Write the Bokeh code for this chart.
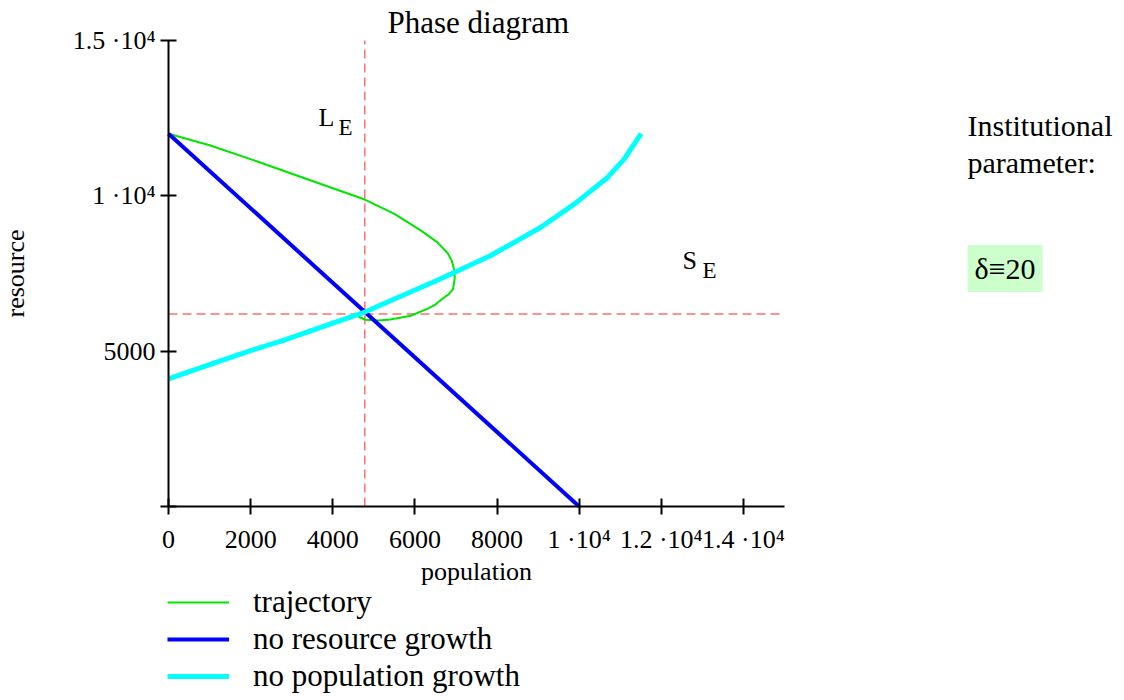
from bokeh.plotting import figure
from bokeh.models import Range1d, FixedTicker, Label, Legend, LegendItem
from bokeh.embed import file_html
from bokeh.resources import INLINE

# ---- data ----
traj_population = [0, 1000, 2200, 3450, 4780, 5500, 6150, 6550, 6800, 6900, 6960, 6970,
                   6930, 6820, 6700, 6500, 6300, 5900, 5400, 5100, 4800, 4640, 4600]
traj_resource = [12000, 11630, 11090, 10500, 9880, 9420, 8880, 8500, 8150, 7900, 7600, 7350,
                 7000, 6830, 6720, 6500, 6360, 6140, 6020, 5990, 6010, 6100, 6190]

no_resource_growth_population = [0, 10000]
no_resource_growth_resource = [12000, 0]

no_population_growth_population = [0, 1000, 2000, 2800, 3950, 4780, 6630, 7850, 9070,
                                   9890, 10700, 11100, 11510]
no_population_growth_resource = [4110, 4570, 5020, 5350, 5880, 6260, 7330, 8080, 8990,
                                 9740, 10600, 11190, 12000]

L_E = 4780      # equilibrium population
S_E = 6200      # equilibrium resource
delta = 20      # institutional parameter

X_MAX = 15000
Y_MAX = 15000
x_ticks = [0, 2000, 4000, 6000, 8000, 10000, 12000, 14000]
x_tick_labels = ["0", "2000", "4000", "6000", "8000", "1 ·10⁴", "1.2 ·10⁴", "1.4 ·10⁴"]
y_ticks = [0, 5000, 10000, 15000]
y_tick_labels = ["", "5000", "1 ·10⁴", "1.5 ·10⁴"]

FONT = "Liberation Serif"

# ---- layout (pixels of the canvas) ----
W, H = 1124, 700
AX_LEFT, AX_RIGHT = 168, 784     # pixel of x = 0 and x = X_MAX
AX_BOTTOM, AX_TOP = 506, 40      # pixel of y = 0 and y = Y_MAX
sx = (AX_RIGHT - AX_LEFT) / X_MAX
sy = (AX_BOTTOM - AX_TOP) / Y_MAX

def px2x(px):
    return (px - AX_LEFT) / sx

def py2y(py):
    return (AX_BOTTOM - py) / sy

p = figure(width=W, height=H, output_backend="svg", toolbar_location=None,
           x_range=Range1d(px2x(0), px2x(W)), y_range=Range1d(py2y(H), py2y(0)),
           min_border=0, min_border_left=0, min_border_right=0,
           min_border_top=0, min_border_bottom=0)
p.xgrid.visible = False
p.ygrid.visible = False
p.outline_line_color = None
p.background_fill_color = "white"
p.border_fill_color = "white"

for ax, ticks, labels, bound in ((p.xaxis, x_ticks, x_tick_labels, X_MAX),
                                 (p.yaxis, y_ticks, y_tick_labels, Y_MAX)):
    ax.fixed_location = 0
    ax.bounds = (0, bound)
    ax.ticker = FixedTicker(ticks=ticks)
    ax.major_label_overrides = {t: l for t, l in zip(ticks, labels)}
    ax.axis_line_color = "black"
    ax.axis_line_width = 2
    ax.major_tick_line_color = "black"
    ax.major_tick_line_width = 2
    ax.major_tick_in = 8
    ax.major_tick_out = 8
    ax.minor_tick_line_color = None
    ax.major_label_text_font = FONT
    ax.major_label_text_font_size = "26px"
    ax.major_label_text_color = "black"
    ax.axis_label_text_font = FONT
    ax.axis_label_text_font_size = "26px"
    ax.axis_label_text_font_style = "normal"
    ax.axis_label_text_color = "black"

p.xaxis.axis_label = "population"
p.xaxis.major_label_standoff = 10
p.xaxis.axis_label_standoff = 0
p.yaxis.axis_label = "resource"
p.yaxis.major_label_standoff = 5
p.yaxis.axis_label_standoff = 40

# equilibrium guides (dashed)
p.segment(x0=[L_E, 0], y0=[0, S_E], x1=[L_E, X_MAX], y1=[Y_MAX, S_E],
          line_color="#ff7070", line_width=1.5, line_dash="9 5")

r_traj = p.line(traj_population, traj_resource, line_color="#00e600", line_width=2)
r_res = p.line(no_resource_growth_population, no_resource_growth_resource,
               line_color="#0000ff", line_width=4)
r_pop = p.line(no_population_growth_population, no_population_growth_resource,
               line_color="#00ffff", line_width=5)

legend = Legend(items=[LegendItem(label="trajectory", renderers=[r_traj]),
                       LegendItem(label="no resource growth", renderers=[r_res]),
                       LegendItem(label="no population growth", renderers=[r_pop])],
                location=(167, 6), label_text_font=FONT, label_text_font_size="31px",
                label_text_color="black",
                glyph_width=62, glyph_height=36, label_standoff=24, spacing=1,
                padding=0, margin=0, border_line_color=None, background_fill_alpha=0)
p.add_layout(legend)

def lab(px, py, text, size, **kw):
    p.add_layout(Label(x=px2x(px), y=py2y(py), text=text, text_font=FONT,
                       text_font_size=size, text_color="black",
                       text_baseline="alphabetic", **kw))

lab(387, 22, "Phase diagram", "31px")
lab(318, 117, "L", "26px")
lab(338, 127, "E", "23px")
lab(682, 260, "S", "26px")
lab(702, 270, "E", "23px")
lab(967, 125, "Institutional", "30px")
lab(967, 162, "parameter:", "30px")
lab(967, 268, "δ≡" + str(delta), "30px", background_fill_color="#ccffcc", padding=7)

open("out.html", "w").write(file_html(p, INLINE))
